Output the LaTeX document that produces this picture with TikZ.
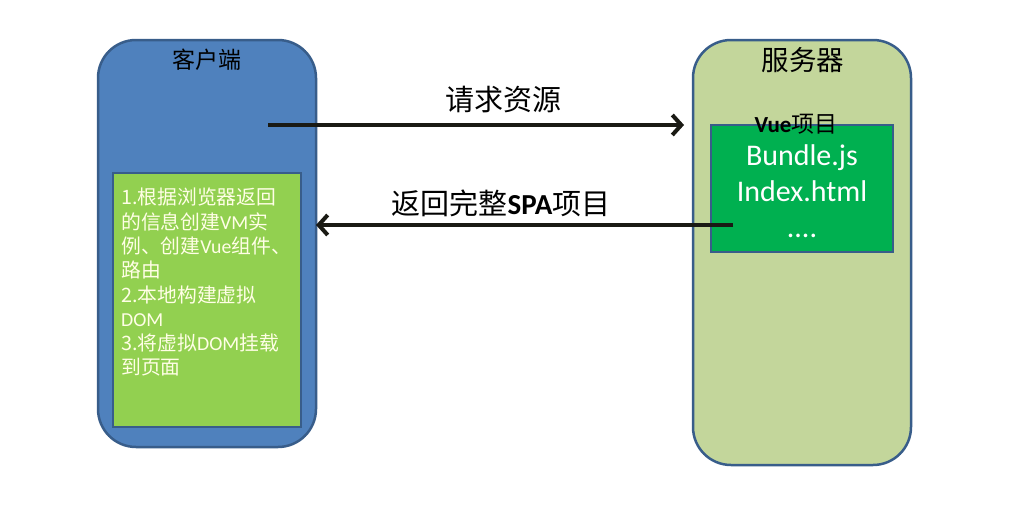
\documentclass[tikz,border=0pt]{standalone}
\usepackage{fontspec}
\setmainfont{Carlito}
\newfontfamily\cjk{Noto Sans CJK SC}
\usetikzlibrary{arrows.meta}
\definecolor{cblue}{HTML}{4F81BD}
\definecolor{cborder}{HTML}{385D8A}
\definecolor{lgreen}{HTML}{92D050}
\definecolor{sgreen}{HTML}{C3D69B}
\definecolor{dgreen}{HTML}{00B050}
\definecolor{arrowc}{HTML}{1A1A14}
\begin{document}
\begin{tikzpicture}[x=1pt,y=-1pt,
  outerbox/.style={draw=cborder,line width=2.5pt,rounded corners=38pt},
  innerbox/.style={draw=cborder,line width=2pt},
  bigarrow/.style={draw=arrowc,line width=4pt,-{Straight Barb[length=9pt,width=20pt,line width=4pt]}},
  lbl/.style={font=\fontsize{29}{34}\selectfont\cjk,text=black,inner sep=0pt}]
\useasboundingbox (0,0) rectangle (1018,514);
\fill[white] (0,0) rectangle (1018,514);
\path[outerbox,fill=cblue] (98,40) rectangle (316,447);
\node[innerbox,fill=lgreen,minimum width=188pt,minimum height=254pt,inner sep=0pt] (gbox) at (207,300) {};
\path[outerbox,fill=sgreen] (693,40) rectangle (911,465);
\node[innerbox,fill=dgreen,minimum width=182pt,minimum height=127pt,inner sep=0pt] (vbox) at (802,188.5) {};
\node[font=\fontsize{23}{26}\selectfont\cjk,inner sep=0pt] (client) at (207,60) {客户端};
\node[font=\fontsize{27.5}{30}\selectfont\cjk,inner sep=0pt] (server) at (803,60) {服务器};
\node[font=\fontsize{23}{26}\selectfont,inner sep=0pt] (vue) at (796,124) {\textbf{Vue}{\cjk 项目}};
\node[font=\fontsize{30}{36}\selectfont,text=white,align=center,inner sep=0pt] (files) at (802,191) {Bundle.js\\Index.html\\....};
\node[font=\fontsize{19.8}{24.3}\selectfont\cjk,text=white!90!yellow,align=left,anchor=north west,inner sep=0pt] (steps) at (121,188)
 {1.根据浏览器返回\\的信息创建{\rmfamily VM}实\\例、创建{\rmfamily Vue}组件、\\路由\\2.本地构建虚拟\\{\rmfamily DOM}\\3.将虚拟{\rmfamily DOM}挂载\\到页面};
\coordinate (a1s) at (268,125);
\coordinate (a1e) at (684,125);
\coordinate (a2s) at (733,225);
\coordinate (a2e) at (316,225);
\draw[bigarrow] (a1s) -- (a1e);
\draw[bigarrow] (a2s) -- (a2e);
\node[lbl] (req) at (503,100) {请求资源};
\node[lbl] (ret) at (501,203) {返回完整{\rmfamily\bfseries SPA}项目};
\end{tikzpicture}
\end{document}
